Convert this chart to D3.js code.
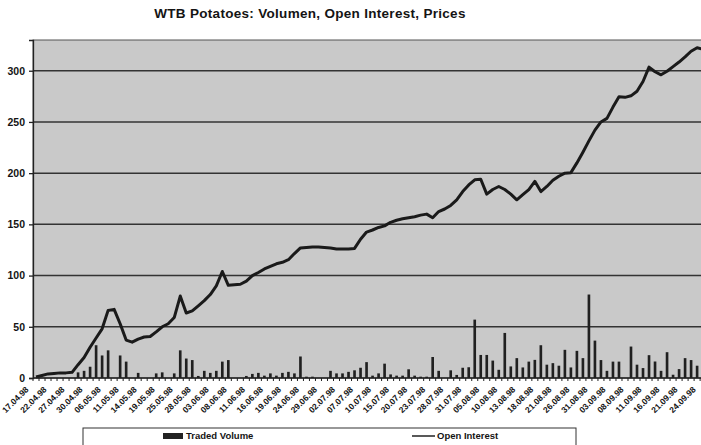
<!DOCTYPE html>
<html>
<head>
<meta charset="utf-8">
<script src="https://cdn.jsdelivr.net/npm/d3@7"></script>
<style>
body { margin: 0; background: #fff; }
svg text { font-family: "Liberation Sans", Arial, sans-serif; fill: #141414; }
</style>
</head>
<body>
<script>
// trading days (german holidays 01.05, 21.05, 01.06 are missing)
var dates = [
	'17.04.98', '20.04.98', '21.04.98', '22.04.98', '23.04.98', '24.04.98', '27.04.98', '28.04.98', '29.04.98', '30.04.98',
	'04.05.98', '05.05.98', '06.05.98', '07.05.98', '08.05.98', '11.05.98', '12.05.98', '13.05.98', '14.05.98', '15.05.98',
	'18.05.98', '19.05.98', '20.05.98', '22.05.98', '25.05.98', '26.05.98', '27.05.98', '28.05.98', '29.05.98',
	'02.06.98', '03.06.98', '04.06.98', '05.06.98', '08.06.98', '09.06.98', '10.06.98', '11.06.98', '12.06.98', '15.06.98',
	'16.06.98', '17.06.98', '18.06.98', '19.06.98', '22.06.98', '23.06.98', '24.06.98', '25.06.98', '26.06.98', '29.06.98', '30.06.98',
	'01.07.98', '02.07.98', '03.07.98', '06.07.98', '07.07.98', '08.07.98', '09.07.98', '10.07.98', '13.07.98', '14.07.98',
	'15.07.98', '16.07.98', '17.07.98', '20.07.98', '21.07.98', '22.07.98', '23.07.98', '24.07.98', '27.07.98', '28.07.98',
	'29.07.98', '30.07.98', '31.07.98',
	'03.08.98', '04.08.98', '05.08.98', '06.08.98', '07.08.98', '10.08.98', '11.08.98', '12.08.98', '13.08.98', '14.08.98',
	'17.08.98', '18.08.98', '19.08.98', '20.08.98', '21.08.98', '24.08.98', '25.08.98', '26.08.98', '27.08.98', '28.08.98', '31.08.98',
	'01.09.98', '02.09.98', '03.09.98', '04.09.98', '07.09.98', '08.09.98', '09.09.98', '10.09.98', '11.09.98', '14.09.98',
	'15.09.98', '16.09.98', '17.09.98', '18.09.98', '21.09.98', '22.09.98', '23.09.98', '24.09.98'
];

// traded volume (bars)
var volume = [
	0, 0, 0, 0, 0, 0, 0, 5.5, 7, 11,
	32, 22, 27, 0, 22, 16, 0, 5, 0, 0,
	4.5, 5.5, 0, 4.5, 27, 19, 17.5, 2, 7,
	5, 7, 16, 17.5, 0, 0, 2, 4, 5, 2.3,
	4.5, 2.3, 5, 6, 4.5, 21, 1.3, 1.3, 0, 0, 7,
	4.5, 4.5, 6, 7.5, 10, 15.5, 2.3, 4.5, 14, 3.5,
	2.3, 2.3, 8.5, 2.3, 1.3, 1.3, 20.5, 7, 0, 7.5,
	3, 10, 10.5,
	57, 22.5, 22.5, 17, 8, 44, 11.3, 19.4, 10.3, 16,
	17.7, 32, 13, 14.5, 12, 27.5, 10.3, 26.5, 19.4, 81.5, 36.5,
	17.5, 7, 16, 16, 0, 30.7, 13, 9.7, 22.3, 16.1,
	7, 25.2, 3.2, 8.7, 19.4, 17.5, 12, 8
];

// open interest (line)
var openInterest = [
	1, 2.5, 4, 4.5, 5, 5, 5.5, 13, 20, 30,
	39, 48, 66, 67, 53, 37, 35, 38, 40, 40.5,
	45, 50, 53, 59, 80, 63.5, 65.5, 70.5, 75.5,
	81.5, 90, 104, 90.5, 91, 91.5, 94.5, 100, 103, 106.5,
	109, 111.5, 113, 115.5, 121.5, 127, 127.5, 128, 128, 127.5, 127,
	126, 126, 126, 126.5, 135.5, 142.5, 144.5, 147, 148.5, 152,
	154, 155.5, 156.5, 157.5, 159, 160, 156.5, 162.5, 165, 168.5,
	174, 182, 188.5,
	193.5, 194, 179.5, 184, 187, 184, 179.5, 174, 179, 184,
	192, 182, 187, 193, 197, 200, 200.5, 210, 220.5, 231.5, 242,
	250, 253.5, 264.5, 274.5, 274, 275.5, 280, 289.5, 303.5, 299,
	296, 299.5, 304, 308.5, 313.5, 319, 322.5, 321
];

var yTicks = [0, 50, 100, 150, 200, 250, 300];
// every third trading day gets a label
var xLabels = dates.filter(function(d, i) { return i % 3 === 0; });
var legendLabels = ['Traded Volume', 'Open Interest'];

var width = 701,
	height = 445,
	plotLeft = 33,
	plotTop = 40,
	plotBottom = 378,
	step = 6.01;

var svg = d3.select('body')
	.append('svg')
	.attr('width', width)
	.attr('height', height);

// band centres fall on plotLeft + step * (i + 0.5)
var x = d3.scaleBand()
	.domain(dates)
	.range([plotLeft, plotLeft + dates.length * step])
	.paddingInner(0.56)
	.paddingOuter(0.28);

var y = d3.scaleLinear()
	.domain([0, 330])
	.range([plotBottom, plotTop]);

var plotRight = plotLeft + dates.length * step;
function cx(d) { return x(d) + x.bandwidth() / 2; }

// title
svg.append('text')
	.attr('x', 310)
	.attr('y', 18)
	.attr('text-anchor', 'middle')
	.style('font-size', '13.5px')
	.style('font-weight', 'bold')
	.style('letter-spacing', '0.3px')
	.text('WTB Potatoes: Volumen, Open Interest, Prices');

// grey plot area
svg.append('rect')
	.attr('x', plotLeft)
	.attr('y', plotTop)
	.attr('width', plotRight - plotLeft)
	.attr('height', plotBottom - plotTop)
	.style('fill', '#c9c9c9')
	.style('stroke', '#555')
	.style('stroke-width', 1);

// gridlines
svg.append('g')
	.selectAll('line')
	.data(yTicks.slice(1))
	.enter().append('line')
	.attr('x1', plotLeft)
	.attr('x2', plotRight)
	.attr('y1', function(d) { return y(d); })
	.attr('y2', function(d) { return y(d); })
	.style('stroke', '#333')
	.style('stroke-width', 1.5);

// y axis
var yAxis = svg.append('g')
	.attr('transform', `translate(${plotLeft}, 0)`)
	.call(d3.axisLeft(y).tickValues(yTicks).tickSize(4).tickPadding(4));
yAxis.select('.domain').style('stroke', '#222').style('stroke-width', 1.3);
yAxis.selectAll('.tick line').style('stroke', '#222').style('stroke-width', 1.3);
yAxis.selectAll('text')
	.style('font-size', '10.5px')
	.style('font-weight', 'bold')
	.style('font-family', '"Liberation Sans", Arial, sans-serif');

// bars
svg.append('g')
	.selectAll('rect')
	.data(volume)
	.enter().append('rect')
	.attr('x', function(d, i) { return x(dates[i]); })
	.attr('y', function(d) { return y(d); })
	.attr('width', x.bandwidth())
	.attr('height', function(d) { return plotBottom - y(d); })
	.style('fill', '#202020');

// open interest line
var line = d3.line()
	.x(function(d, i) { return cx(dates[i]); })
	.y(function(d) { return y(d); });

svg.append('path')
	.datum(openInterest)
	.attr('d', line)
	.style('fill', 'none')
	.style('stroke', '#1a1a1a')
	.style('stroke-width', 3)
	.style('stroke-linejoin', 'round');

// x axis line with small ticks between categories
svg.append('line')
	.attr('x1', plotLeft)
	.attr('x2', plotRight)
	.attr('y1', plotBottom)
	.attr('y2', plotBottom)
	.style('stroke', '#222')
	.style('stroke-width', 1.4);

svg.append('g')
	.selectAll('line')
	.data(dates)
	.enter().append('line')
	.attr('x1', function(d) { return cx(d) - x.step() / 2; })
	.attr('x2', function(d) { return cx(d) - x.step() / 2; })
	.attr('y1', plotBottom)
	.attr('y2', plotBottom + 3)
	.style('stroke', '#222')
	.style('stroke-width', 1);

// rotated date labels
svg.append('g')
	.selectAll('text')
	.data(xLabels)
	.enter().append('text')
	.attr('transform', function(d) { return `translate(${cx(d) - 9}, ${plotBottom + 10}) rotate(-45)`; })
	.attr('text-anchor', 'end')
	.attr('dy', '0.35em')
	.style('font-size', '8.5px')
	.style('font-weight', 'bold')
	.text(function(d) { return d; });

// legend
var legend = svg.append('g').classed('legend', true);

legend.append('rect')
	.attr('x', 83)
	.attr('y', 428)
	.attr('width', 493)
	.attr('height', 30)
	.style('fill', '#fff')
	.style('stroke', '#333')
	.style('stroke-width', 1);

legend.append('rect')
	.attr('x', 163)
	.attr('y', 433)
	.attr('width', 20)
	.attr('height', 6)
	.style('fill', '#222');

legend.append('text')
	.attr('x', 186)
	.attr('y', 436)
	.attr('dy', '0.35em')
	.style('font-size', '9.5px')
	.style('font-weight', 'bold')
	.text(legendLabels[0]);

legend.append('line')
	.attr('x1', 412)
	.attr('x2', 435)
	.attr('y1', 436)
	.attr('y2', 436)
	.style('stroke', '#222')
	.style('stroke-width', 1.5);

legend.append('text')
	.attr('x', 437)
	.attr('y', 436)
	.attr('dy', '0.35em')
	.style('font-size', '9.5px')
	.style('font-weight', 'bold')
	.text(legendLabels[1]);
</script>
</body>
</html>
